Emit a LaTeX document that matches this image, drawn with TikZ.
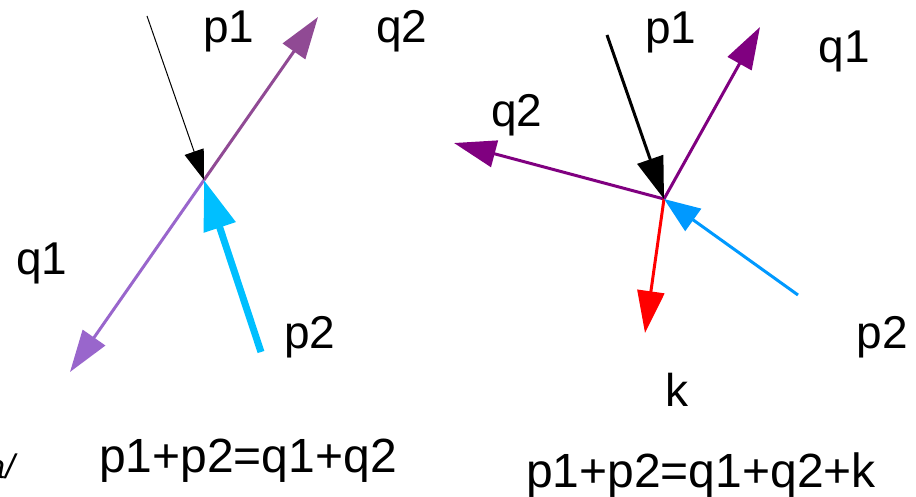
\documentclass[tikz,border=0pt]{standalone}
\usepackage{fontspec}
\setmainfont{Liberation Sans}
\usetikzlibrary{arrows.meta}
\definecolor{qtwoL}{RGB}{144,74,148}
\definecolor{qoneL}{RGB}{153,102,204}
\definecolor{ptwoL}{RGB}{0,191,255}
\definecolor{purpR}{RGB}{128,0,128}
\definecolor{ptwoR}{RGB}{0,153,255}
\tikzset{
  lbl/.style={anchor=base, inner sep=0pt, font=\fontsize{46}{52}\selectfont},
  eqn/.style={anchor=base, inner sep=0pt, font=\fontsize{48}{54}\selectfont},
  head/.style={-{Triangle[length=42pt,width=27pt]}},
  thinarrow/.style={line width=1pt, -{Triangle[length=30pt,width=20pt]}},
  thickarrow/.style={line width=7pt, -{Triangle[length=50pt,width=32pt]}},
  medarrow/.style={line width=3pt, head}
}
\begin{document}
\begin{tikzpicture}[x=1pt,y=-1pt]
\useasboundingbox (0,0) rectangle (916,497);
\clip (0,0) rectangle (916,497);
% left diagram
\coordinate (O1) at (204,180);
\coordinate (q2Ltip) at (318,17);
\coordinate (q1Ltip) at (70,372);
\coordinate (p1Ltail) at (147,16);
\coordinate (p2Ltail) at (261,352);
\draw[medarrow, qtwoL] (O1) -- (q2Ltip);
\draw[medarrow, qoneL] (O1) -- (q1Ltip);
\draw[thinarrow, black] (p1Ltail) -- (O1);
\draw[thickarrow, ptwoL] (p2Ltail) -- (O1);
\node[lbl] (p1L) at (229,43) {p1};
\node[lbl] (q2L) at (402,43) {q2};
\node[lbl] (q1L) at (42,275) {q1};
\node[lbl] (p2L) at (310,348) {p2};
\node[eqn] (eqL) at (248,472) {p1+p2=q1+q2};
\node[anchor=base east, inner sep=0pt, font=\itshape\fontsize{34}{40}\selectfont] (cut) at (15,478) {a/};
% right diagram
\coordinate (O2) at (664,199);
\coordinate (p1Rtail) at (607,35);
\coordinate (q1Rtip) at (760,27);
\coordinate (q2Rtip) at (454,143);
\coordinate (kRtip) at (645,333);
\coordinate (p2Rtail) at (798,295);
\draw[medarrow, purpR] (O2) -- (q1Rtip);
\draw[medarrow, purpR] (O2) -- (q2Rtip);
\draw[medarrow, red] (O2) -- (kRtip);
\draw[medarrow, black] (p1Rtail) -- (O2);
\draw[line width=3pt, ptwoR, -{Triangle[length=36pt,width=27pt]}] (p2Rtail) -- (O2);
\node[lbl] (p1R) at (671,44) {p1};
\node[lbl] (q1R) at (844,63) {q1};
\node[lbl] (q2R) at (517,127) {q2};
\node[lbl] (p2R) at (882,348) {p2};
\node[lbl] (kR) at (677,406) {k};
\node[eqn] (eqR) at (701,487) {p1+p2=q1+q2+k};
\end{tikzpicture}
\end{document}
